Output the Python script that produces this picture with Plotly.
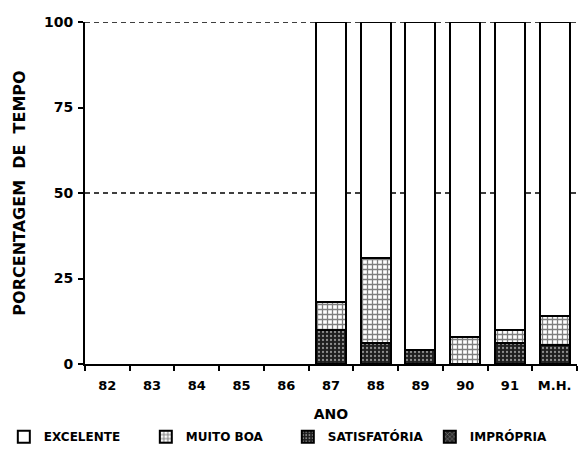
import plotly.graph_objects as go

categories = ["82", "83", "84", "85", "86", "87", "88", "89", "90", "91", "M.H."]
excelente = [None, None, None, None, None, 82, 69, 96, 92, 90, 86]
muito_boa = [None, None, None, None, None, 8, 25, 0, 8, 4, 8.5]
satisfatoria = [None, None, None, None, None, 10, 6, 4, 0, 6, 5.5]
impropria = [None, None, None, None, None, 0, 0, 0, 0, 0, 0]
y_ticks = [0, 25, 50, 75, 100]
ref_lines = [50, 100]

FONT = "DejaVu Sans, Liberation Sans, sans-serif"
font_main = dict(family=FONT, size=13, color="black", weight="bold")

fig = go.Figure()
line = dict(color="black", width=2)

fig.add_trace(go.Bar(
    x=categories, y=impropria, name="IMPRÓPRIA",
    marker=dict(color="#3a3a3a", line=line,
                pattern=dict(shape="x", fgcolor="white", bgcolor="#2a2a2a", size=4, solidity=0.25)),
))
fig.add_trace(go.Bar(
    x=categories, y=satisfatoria, name="SATISFATÓRIA",
    marker=dict(color="#222222", line=line,
                pattern=dict(shape=".", fgcolor="white", bgcolor="#1e1e1e", size=4, solidity=0.25)),
))
fig.add_trace(go.Bar(
    x=categories, y=muito_boa, name="MUITO BOA",
    marker=dict(color="white", line=line,
                pattern=dict(shape="+", fgcolor="black", bgcolor="white", size=5, solidity=0.45)),
))
fig.add_trace(go.Bar(
    x=categories, y=excelente, name="EXCELENTE",
    marker=dict(color="white", line=line),
))

for v in ref_lines:
    fig.add_shape(type="line", xref="paper", x0=0, x1=1, yref="y", y0=v, y1=v,
                  line=dict(color="black", width=1.5, dash="5px,4px"), layer="below")

fig.update_layout(
    barmode="stack",
    bargap=0.33,
    width=579, height=457,
    margin=dict(l=85, r=2, t=22, b=93, autoexpand=False),
    paper_bgcolor="white", plot_bgcolor="white",
    font=font_main,
    showlegend=True,
    legend=dict(orientation="h", traceorder="reversed",
                x=-0.165, xanchor="left", y=-0.17, yanchor="top",
                entrywidth=97, entrywidthmode="pixels",
                itemwidth=30, tracegroupgap=0,
                font=dict(family=FONT, size=12, weight="bold")),
    xaxis=dict(
        automargin=False,
        title=dict(text="ANO", font=dict(size=14), standoff=18),
        showline=True, linecolor="black", linewidth=2,
        ticks="outside", ticklen=5, tickwidth=1.5, tickcolor="black",
        tickson="boundaries", showgrid=False, zeroline=False,
        ticklabelstandoff=8,
        tickfont=dict(size=13),
    ),
    yaxis=dict(
        automargin=False,
        title=dict(text="PORCENTAGEM  DE  TEMPO", font=dict(size=16), standoff=14),
        range=[0, 100], tickvals=y_ticks,
        showline=True, linecolor="black", linewidth=2,
        ticks="outside", ticklen=5, tickwidth=1.5, tickcolor="black",
        showgrid=False, zeroline=False,
        ticklabelstandoff=2,
        tickfont=dict(size=14),
    ),
)

fig.write_html("out.html", config={"displayModeBar": False},
               post_script="document.body.style.margin='0';")
